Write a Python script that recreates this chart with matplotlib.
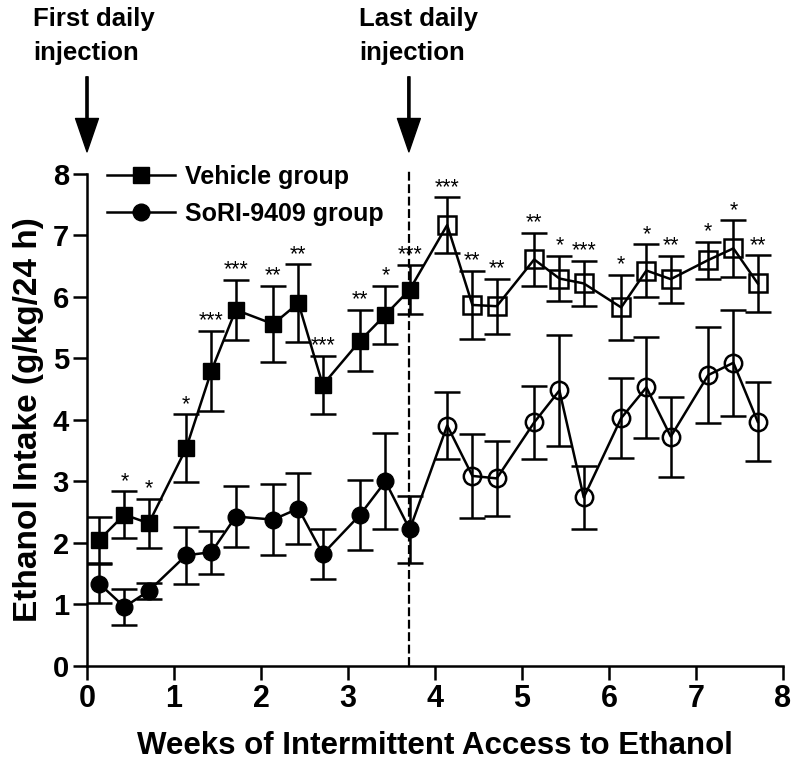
import matplotlib
matplotlib.use("Agg")
import matplotlib.pyplot as plt
from matplotlib.lines import Line2D
from matplotlib import font_manager

## fonts: Arial-like bold, narrow variant for the x axis if we have it
installed = {f.name for f in font_manager.fontManager.ttflist}
mainFont = "Liberation Sans" if "Liberation Sans" in installed else "DejaVu Sans"
narrowFont = "Liberation Sans Narrow" if "Liberation Sans Narrow" in installed else mainFont
plt.rcParams['font.family'] = [mainFont, 'DejaVu Sans']

## weeks (Mon/Wed/Fri drinking sessions)
weeks = [0.14, 0.43, 0.71, 1.14, 1.43, 1.71, 2.14, 2.43, 2.71, 3.14, 3.43, 3.71,
         4.14, 4.43, 4.71, 5.14, 5.43, 5.71, 6.14, 6.43, 6.71, 7.14, 7.43, 7.71]

vehicleMean = [2.05, 2.46, 2.32, 3.54, 4.80, 5.79, 5.56, 5.90, 4.57, 5.29, 5.71, 6.12,
               7.17, 5.87, 5.85, 6.61, 6.30, 6.22, 5.83, 6.43, 6.29, 6.60, 6.79, 6.22]
vehicleSem = [0.37, 0.38, 0.40, 0.55, 0.65, 0.49, 0.62, 0.63, 0.47, 0.50, 0.47, 0.40,
              0.45, 0.56, 0.45, 0.43, 0.37, 0.37, 0.53, 0.43, 0.38, 0.30, 0.46, 0.46]

soriMean = [1.34, 0.96, 1.22, 1.80, 1.85, 2.43, 2.38, 2.56, 1.82, 2.46, 3.00, 2.22,
            3.91, 3.09, 3.05, 3.96, 4.48, 2.74, 4.03, 4.53, 3.73, 4.73, 4.93, 3.97]
soriSem = [0.31, 0.29, 0.13, 0.46, 0.35, 0.49, 0.58, 0.57, 0.40, 0.57, 0.78, 0.55,
           0.55, 0.68, 0.61, 0.60, 0.90, 0.51, 0.65, 0.82, 0.65, 0.78, 0.86, 0.64]

## significance marks above the vehicle error bars
stars = ['', '*', '*', '*', '***', '***', '**', '**', '***', '**', '*', '***',
         '***', '**', '**', '**', '*', '***', '*', '*', '**', '*', '*', '**']

nInjection = 12          # first 12 sessions had daily injections (filled symbols)
lastInjection = 3.7
firstInjection = 0.0

fig = plt.figure(figsize=(8, 7.77), dpi=100)
ax = fig.add_axes([0.10875, 0.1429, 0.87, 0.6332])

lw = 1.8

## error bars
ax.errorbar(weeks, vehicleMean, yerr=vehicleSem, fmt='none', ecolor='black',
            elinewidth=lw, capsize=9.5, capthick=lw, zorder=2)
ax.errorbar(weeks, soriMean, yerr=soriSem, fmt='none', ecolor='black',
            elinewidth=lw, capsize=9.5, capthick=lw, zorder=2)

## connecting lines
ax.plot(weeks, vehicleMean, color='black', lw=lw, zorder=3)
ax.plot(weeks, soriMean, color='black', lw=lw, zorder=3)

## filled markers while injected, open afterwards
ax.plot(weeks[:nInjection], vehicleMean[:nInjection], ls='none', marker='s',
        ms=11.5, mfc='black', mec='black', zorder=4)
ax.plot(weeks[nInjection:], vehicleMean[nInjection:], ls='none', marker='s',
        ms=12.5, mfc='none', mec='black', mew=lw, zorder=4)
ax.plot(weeks[:nInjection], soriMean[:nInjection], ls='none', marker='o',
        ms=12, mfc='black', mec='black', zorder=4)
ax.plot(weeks[nInjection:], soriMean[nInjection:], ls='none', marker='o',
        ms=12.5, mfc='none', mec='black', mew=lw, zorder=4)

## stars
for x, m, s, st in zip(weeks, vehicleMean, vehicleSem, stars):
    if st:
        ax.text(x, m + s + 0.16, st, ha='center', va='center', fontsize=15.5,
                fontweight='normal')

## last injection dashed line
ax.plot([lastInjection, lastInjection], [0, 8.05], color='black', lw=1.6,
        ls=(0, (4, 1.6)), clip_on=False, zorder=1)

## arrows above the plot
for xa in [firstInjection, lastInjection]:
    ax.annotate('', xy=(xa, 8.36), xytext=(xa, 9.58), annotation_clip=False,
                arrowprops=dict(facecolor='black', edgecolor='black', width=1.6,
                                headwidth=16.5, headlength=24, shrink=0))

fig.text(33 / 800, 1 - 7 / 777, "First daily\ninjection", ha='left', va='top',
         fontsize=18.5, fontweight='bold', linespacing=1.55)
fig.text(359 / 800, 1 - 7 / 777, "Last daily\ninjection", ha='left', va='top',
         fontsize=18.5, fontweight='bold', linespacing=1.55)

## axes
ax.set_xlim(0, 8)
ax.set_ylim(0, 8)
ax.set_xticks(range(0, 9))
ax.set_yticks(range(0, 9))
for side in ['top', 'right']:
    ax.spines[side].set_visible(False)
for side in ['left', 'bottom']:
    ax.spines[side].set_linewidth(lw)
ax.tick_params(direction='out', length=10, width=lw, pad=3)
for lab in ax.get_yticklabels():
    lab.set_fontsize(21)
    lab.set_fontweight('bold')
for lab in ax.get_xticklabels():
    lab.set_fontsize(22)
    lab.set_fontweight('bold')
    lab.set_family([narrowFont, 'DejaVu Sans'])

ax.set_xlabel("Weeks of Intermittent Access to Ethanol", fontsize=22.5,
              fontweight='bold', labelpad=12)
ax.set_ylabel("Ethanol Intake (g/kg/24 h)", fontsize=24, fontweight='bold',
              labelpad=6)

## legend
handles = [Line2D([], [], color='black', lw=lw, marker='s', ms=11.5),
           Line2D([], [], color='black', lw=lw, marker='o', ms=12)]
ax.legend(handles, ["Vehicle group", "SoRI-9409 group"], loc='upper left',
          bbox_to_anchor=(0.029, 1.018), frameon=False,
          prop={'weight': 'bold', 'size': 18}, handlelength=2.7,
          handletextpad=0.4, labelspacing=0.5, borderpad=0, borderaxespad=0)

fig.savefig('out.png', dpi=100)
